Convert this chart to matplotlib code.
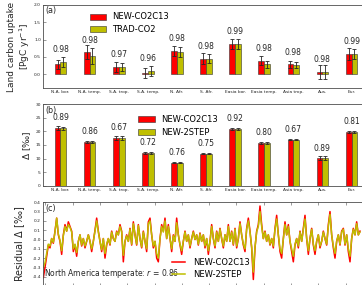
import matplotlib
matplotlib.use("Agg")
import matplotlib.pyplot as plt
import numpy as np

# region names for the bar panels
regions = ["N.A. bor.", "N.A. temp.", "S.A. trop.", "S.A. temp.", "N. Afr.", "S. Afr.",
           "Easia bor.", "Easia temp.", "Asia trop.", "Aus.", "Eur."]

# panel (a): land carbon uptake [PgC/yr]
uptake_new = [0.28, 0.63, 0.21, 0.03, 0.67, 0.45, 0.88, 0.39, 0.28, 0.07, 0.58]
uptake_new_err = [0.14, 0.20, 0.15, 0.15, 0.14, 0.16, 0.15, 0.13, 0.09, 0.20, 0.17]
uptake_trad = [0.35, 0.53, 0.21, 0.09, 0.64, 0.45, 0.87, 0.29, 0.27, 0.07, 0.59]
uptake_trad_err = [0.14, 0.24, 0.12, 0.14, 0.14, 0.13, 0.14, 0.10, 0.09, 0.20, 0.14]
uptake_r = ["0.98", "0.98", "0.97", "0.96", "0.98", "0.98", "0.99", "0.98", "0.98", "0.98", "0.99"]

# panel (b): discrimination [permil]
delta_new = [21.3, 16.2, 17.6, 12.05, 8.5, 11.8, 20.9, 15.7, 17.0, 10.1, 19.9]
delta_new_err = [0.6, 0.3, 0.8, 0.3, 0.2, 0.2, 0.4, 0.3, 0.3, 0.8, 0.4]
delta_2step = [21.2, 16.2, 17.6, 12.05, 8.5, 11.8, 20.9, 15.7, 17.0, 10.1, 19.9]
delta_2step_err = [0.5, 0.3, 0.9, 0.3, 0.2, 0.2, 0.4, 0.3, 0.3, 0.8, 0.4]
delta_r = ["0.89", "0.86", "0.67", "0.72", "0.76", "0.75", "0.92", "0.80", "0.67", "0.89", "0.81"]

# panel (c): residual discrimination, North America temperate
resid_new = [
    -0.41, -0.30, -0.18, -0.06, -0.09, 0.01, -0.04, 0.09, 0.23, 0.05,
    -0.02, -0.16, 0.05, 0.16, 0.09, 0.19, 0.14, 0.09, -0.13, -0.06,
    -0.18, -0.02, 0.05, -0.07, 0.01, -0.09, -0.02, 0.05, -0.02, -0.13,
    -0.02, 0.10, 0.23, 0.09, -0.02, -0.13, 0.01, -0.20, -0.06, 0.01,
    -0.06, 0.09, 0.01, -0.02, 0.09, 0.05, 0.16, 0.09, -0.24, -0.02,
    0.05, -0.02, 0.12, -0.06, 0.19, 0.05, -0.06, 0.16, 0.01, -0.09,
    0.09, -0.02, -0.13,
    0.19, 0.23, 0.05, -0.09, -0.02, -0.20, -0.24, 0.01, 0.16, 0.09,
    0.23, 0.01, 0.16, 0.01, -0.13, 0.05, -0.02, 0.23, 0.05, -0.06,
    -0.16, -0.02, 0.09, -0.02, 0.05, -0.09, 0.01, 0.09, 0.00, 0.05,
    -0.06, 0.07, -0.02, 0.05, -0.09, 0.01, -0.16, -0.02, 0.16, 0.01,
    -0.09, 0.09, -0.02, 0.12, 0.01, -0.09, 0.05, -0.02, 0.16, -0.02,
    0.09, -0.06, 0.12, -0.09, 0.01, 0.19, 0.05, -0.06, -0.13, 0.12,
    0.23, 0.09,
    -0.09, -0.43, -0.09, 0.09, 0.16, 0.36, 0.16, 0.01, 0.09, -0.02,
    0.05, -0.06, 0.01, -0.09, 0.12, 0.26, 0.05, -0.13, -0.20, 0.01,
    0.19, 0.05, 0.16, -0.02, -0.13, -0.24, -0.06, 0.01, -0.09, 0.09,
    -0.02, 0.12, 0.26, 0.01, -0.16, 0.01, 0.12, -0.06, -0.16, -0.02,
    0.05, -0.09, -0.02, 0.09, 0.01, -0.06, 0.16, 0.30, 0.05, -0.09,
    -0.20, -0.02, 0.05, -0.06, 0.09, 0.12, -0.06, 0.05, -0.13, -0.24,
    0.01, 0.12, 0.05, 0.19, 0.05, 0.09,
]
resid_2step = [
    -0.30, -0.25, -0.15, -0.05, -0.07, 0.01, -0.03, 0.08, 0.23, 0.06,
    -0.01, -0.12, 0.04, 0.14, 0.09, 0.16, 0.13, 0.08, -0.10, -0.05,
    -0.14, -0.02, 0.05, -0.06, 0.01, -0.07, -0.02, 0.05, -0.02, -0.10,
    -0.02, 0.09, 0.20, 0.08, -0.02, -0.11, 0.01, -0.15, -0.05, 0.01,
    -0.05, 0.08, 0.01, -0.02, 0.08, 0.05, 0.14, 0.08, -0.17, -0.02,
    0.04, -0.02, 0.11, -0.05, 0.17, 0.05, -0.05, 0.15, 0.01, -0.08,
    0.08, -0.02, -0.10,
    0.17, 0.20, 0.05, -0.07, -0.02, -0.15, -0.20, 0.01, 0.14, 0.08,
    0.20, 0.01, 0.14, 0.01, -0.10, 0.04, -0.02, 0.18, 0.05, -0.05,
    -0.12, -0.02, 0.08, -0.02, 0.05, -0.07, 0.01, 0.08, 0.00, 0.05,
    -0.05, 0.06, -0.02, 0.05, -0.07, 0.01, -0.12, -0.02, 0.14, 0.01,
    -0.07, 0.08, -0.02, 0.11, 0.01, -0.07, 0.05, -0.02, 0.14, -0.02,
    0.08, -0.05, 0.11, -0.07, 0.01, 0.17, 0.05, -0.05, -0.10, 0.11,
    0.20, 0.08,
    -0.08, -0.35, -0.08, 0.08, 0.14, 0.30, 0.14, 0.01, 0.08, -0.02,
    0.05, -0.05, 0.01, -0.07, 0.11, 0.22, 0.05, -0.10, -0.15, 0.01,
    0.16, 0.05, 0.14, -0.02, -0.10, -0.18, -0.05, 0.01, -0.07, 0.08,
    -0.02, 0.11, 0.22, 0.01, -0.12, 0.01, 0.11, -0.05, -0.12, -0.02,
    0.05, -0.07, -0.02, 0.08, 0.01, -0.05, 0.14, 0.27, 0.05, -0.07,
    -0.15, -0.02, 0.05, -0.05, 0.08, 0.11, -0.05, 0.05, -0.10, -0.18,
    0.01, 0.11, 0.05, 0.17, 0.05, 0.08,
]

RED = "#ff0000"
YEL = "#bfbf00"
TXT = "0.15"
W, H = 362.0, 285.0

fig = plt.figure(figsize=(3.62, 2.85), dpi=100)


def px_axes(left, top, right, bottom):
    # axes rectangle given in pixel coords (y down), may run past the figure edge
    return fig.add_axes([left / W, 1 - bottom / H, (right - left) / W, (bottom - top) / H])


def style_axes(ax):
    for s in ax.spines.values():
        s.set_linewidth(0.6)
        s.set_color("0.3")
    ax.tick_params(direction="in", width=0.4, length=2, labelsize=3.2,
                   colors="0.3", labelcolor=TXT, pad=1.5)


def bar_panel(ax, new, new_err, other, other_err, rvals, other_name, ylim, yticks, off, tag):
    x = np.arange(1, len(regions) + 1)
    w = 0.2
    ekw = dict(ecolor="0.15", elinewidth=0.6, capsize=1.5, capthick=0.6)
    ax.bar(x - w / 2, new, w, yerr=new_err, color=RED, edgecolor="0.2", linewidth=0.4,
           error_kw=ekw, label="NEW-CO2C13")
    ax.bar(x + w / 2, other, w, yerr=other_err, color=YEL, edgecolor="0.2", linewidth=0.4,
           error_kw=ekw, label=other_name)
    for xi, a, b, r in zip(x, new, other, rvals):
        ax.text(xi, max(a, b) + off, r, ha="center", va="bottom", fontsize=5.5, color=TXT)
    ax.set_xlim(0.4, 11.6)
    ax.set_ylim(*ylim)
    ax.set_xticks(x)
    ax.set_xticklabels(regions)
    ax.set_yticks(yticks)
    style_axes(ax)
    ax.tick_params(axis="x", length=0)
    ax.text(0.006, 0.985, tag, transform=ax.transAxes, ha="left", va="top", fontsize=5.8, color=TXT)


# (a)
ax_a = px_axes(43, 5, 369, 88)
bar_panel(ax_a, uptake_new, uptake_new_err, uptake_trad, uptake_trad_err, uptake_r,
          "TRAD-CO2", (-0.4, 2.0), np.arange(0, 2.01, 0.5), 0.22, "(a)")
ax_a.set_yticklabels(["%.1f" % v for v in np.arange(0, 2.01, 0.5)])
ax_a.legend(loc="upper left", bbox_to_anchor=(0.143, 0.91), frameon=False, fontsize=6,
            borderpad=0, borderaxespad=0, handlelength=2.0, handleheight=0.75,
            handletextpad=0.75, labelspacing=0.45)
ax_a.set_ylabel("Land carbon uptake\n[PgC yr$^{-1}$]", fontsize=6.5, color=TXT, linespacing=1.1)
ax_a.yaxis.set_label_coords(-0.034, 0.5)

# (b)
ax_b = px_axes(43, 104.3, 369, 185.7)
bar_panel(ax_b, delta_new, delta_new_err, delta_2step, delta_2step_err, delta_r,
          "NEW-2STEP", (0, 30), np.arange(0, 31, 5), 2.1, "(b)")
ax_b.legend(loc="upper left", bbox_to_anchor=(0.291, 0.87), frameon=False, fontsize=6,
            borderpad=0, borderaxespad=0, handlelength=2.0, handleheight=0.75,
            handletextpad=0.75, labelspacing=0.45)
ax_b.set_ylabel("$\\Delta$ [‰]", fontsize=6.5, color=TXT)
ax_b.yaxis.set_label_coords(-0.031, 0.5)

# (c)
ax_c = px_axes(43, 202.3, 369, 286)
t = np.arange(len(resid_new))
ax_c.plot(t, resid_new, color=RED, lw=1.1, label="NEW-CO2C13")
ax_c.plot(t, resid_2step, color=YEL, lw=1.1, label="NEW-2STEP")
ax_c.set_xlim(-0.2, 195.4)
ax_c.set_ylim(-0.5, 0.4)
ax_c.set_yticks(np.arange(-0.5, 0.41, 0.1))
ax_c.set_yticklabels(["%.1f" % v for v in np.arange(-0.5, 0.41, 0.1)])
ax_c.set_xticks(np.arange(1.2, 196, 16.38))
ax_c.set_xticklabels([])
style_axes(ax_c)
ax_c.tick_params(axis="x", top=True, length=2.5)
ax_c.text(0.008, 0.985, "(c)", transform=ax_c.transAxes, ha="left", va="top", fontsize=5.8, color=TXT)
ax_c.text(0.004, 0.15, "North America temperate: $r$ = 0.86", transform=ax_c.transAxes,
          ha="left", va="center", fontsize=5.5, color=TXT)
ax_c.legend(loc="upper left", bbox_to_anchor=(0.395, 0.34), frameon=False, fontsize=6,
            borderpad=0, borderaxespad=0, handlelength=1.6, handletextpad=1.0, labelspacing=0.4)
ax_c.set_ylabel("Residual $\\Delta$ [‰]", fontsize=7, color=TXT)
ax_c.yaxis.set_label_coords(-0.048, 0.5)

fig.savefig("out.png", dpi=100)
